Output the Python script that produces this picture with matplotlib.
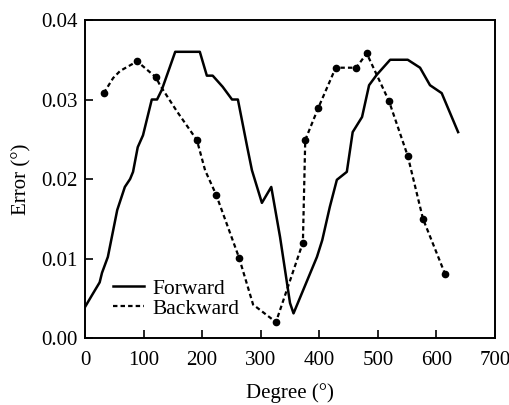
import matplotlib
matplotlib.use("Agg")
import matplotlib.pyplot as plt
from matplotlib.ticker import FormatStrFormatter

# Forward curve (degree, error)
fwd_deg = [0, 12, 25, 29, 39, 55, 68, 77, 82, 90, 99, 114, 123, 131, 143, 154,
           196, 208, 218, 235, 251, 261, 277, 285, 302, 318, 333, 350, 356,
           396, 405, 418, 430, 447, 457, 473, 485, 498, 521, 551, 572, 589,
           609, 637]
fwd_err = [0.0039, 0.0054, 0.0070, 0.0082, 0.0102, 0.0161, 0.0190, 0.0200,
           0.0209, 0.0240, 0.0255, 0.0300, 0.0300, 0.0312, 0.0337, 0.0360,
           0.0360, 0.0330, 0.0330, 0.0316, 0.0300, 0.0300, 0.0240, 0.0211,
           0.0170, 0.0190, 0.0127, 0.0044, 0.0031, 0.0102, 0.0123, 0.0165,
           0.0199, 0.0209, 0.0259, 0.0278, 0.0318, 0.0331, 0.0350, 0.0350,
           0.0340, 0.0318, 0.0308, 0.0259]

# Backward curve (dashed); measured points carry a dot
bwd_deg = [32, 48, 60, 89, 121, 128, 157, 191, 205, 224, 263, 287, 326,
           372, 376, 398, 428, 463, 481, 519, 551, 577, 615]
bwd_err = [0.0308, 0.0327, 0.0336, 0.0348, 0.0328, 0.0318, 0.0285, 0.0249,
           0.0211, 0.0180, 0.0101, 0.0042, 0.0020, 0.0120, 0.0249, 0.0289,
           0.0340, 0.0340, 0.0358, 0.0298, 0.0229, 0.0150, 0.0080]
bwd_marked = [0, 3, 4, 7, 9, 10, 12, 13, 14, 15, 16, 17, 18, 19, 20, 21, 22]

plt.rcParams["font.family"] = ["Liberation Serif", "DejaVu Serif"]
plt.rcParams["font.size"] = 15

fig = plt.figure(figsize=(5.1, 4.05), dpi=100)
ax = fig.add_axes([0.1667, 0.1654, 0.8039, 0.7852])

ax.plot(fwd_deg, fwd_err, color="black", lw=1.8, label="Forward")
ax.plot(bwd_deg, bwd_err, color="black", lw=1.6, linestyle=(0, (2, 1.4)),
        marker="o", markersize=4.5, markevery=bwd_marked, label="Backward")

ax.set_xlim(0, 700)
ax.set_ylim(0, 0.04)
ax.set_xticks(range(0, 701, 100))
ax.set_yticks([0, 0.01, 0.02, 0.03, 0.04])
ax.yaxis.set_major_formatter(FormatStrFormatter("%.2f"))
ax.tick_params(direction="in", length=6, width=1.2)
ax.tick_params(axis="x", pad=9)
ax.tick_params(axis="y", pad=5)
for s in ax.spines.values():
    s.set_linewidth(1.4)

ax.set_xlabel("Degree (°)", labelpad=10)
ax.set_ylabel("Error (°)", labelpad=7)

ax.legend(loc="lower left", bbox_to_anchor=(0.02, 0.0), frameon=False,
          fontsize=15.5, handlelength=1.45, handletextpad=0.4,
          labelspacing=0.0, markerscale=0)

fig.savefig("out.png", dpi=100)
